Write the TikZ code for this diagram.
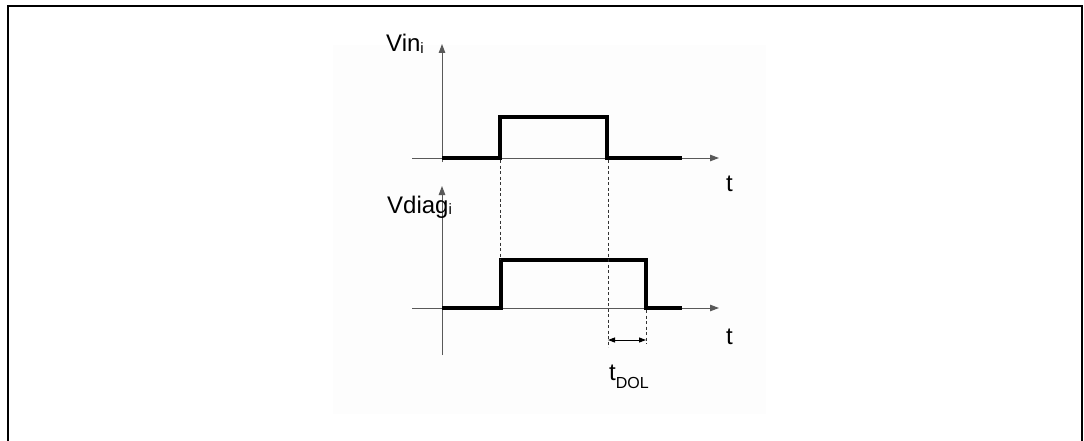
\documentclass[tikz,border=0pt]{standalone}
\usepackage{fontspec}
\setmainfont{Liberation Sans}
\usetikzlibrary{arrows.meta}
\begin{document}
\begin{tikzpicture}[x=1pt,y=-1pt,
  axis/.style={draw=black!65,line width=1pt,-{Triangle[length=9pt,width=6.5pt]}},
  signal/.style={draw=black,line width=3.6pt,line join=miter},
  guide/.style={draw=black!80,line width=0.6pt,dash pattern=on 3pt off 2.5pt},
  dim/.style={draw=black,line width=0.9pt,{Triangle[length=7pt,width=5pt]}-{Triangle[length=7pt,width=5pt]}},
  lbl/.style={inner sep=0pt,anchor=base west,font=\fontsize{24}{28}\selectfont}]
\useasboundingbox (0,0) rectangle (1084,441);
% frame and faint image background
\draw[line width=2pt] (8,452) -- (8,6) -- (1082,6) -- (1082,452);
\fill[black!0.6] (333,45) rectangle (766,414);
% coordinates
\coordinate (a1b) at (442,162);
\coordinate (a1t) at (442,44);
\coordinate (h1l) at (412,158);
\coordinate (h1r) at (719,158);
\coordinate (a2b) at (442,355);
\coordinate (a2t) at (442,186);
\coordinate (h2l) at (412,308);
\coordinate (h2r) at (719,308);
% axes
\draw[axis] (a1b) -- (a1t);
\draw[axis] (h1l) -- (h1r);
\draw[axis] (a2b) -- (a2t);
\draw[axis] (h2l) -- (h2r);
% signals
\draw[signal] (442,158) -- (500,158) -- (500,117) -- (607,117) -- (607,158) -- (682,158);
\draw[signal] (442,308) -- (501,308) -- (501,260) -- (646,260) -- (646,308) -- (682,308);
% guide lines
\coordinate (g1t) at (500,160);
\coordinate (g1b) at (500,260);
\coordinate (g2t) at (608,160);
\coordinate (g2b) at (608,347);
\coordinate (g3t) at (646,310);
\coordinate (g3b) at (646,344);
\draw[guide] (g1t) -- (g1b);
\draw[guide] (g2t) -- (g2b);
\draw[guide] (g3t) -- (g3b);
\coordinate (d1) at (608,340);
\coordinate (d2) at (646,340);
\draw[dim] (d1) -- (d2);
% labels
\node[lbl] (vin) at (386,52) {Vin\raisebox{-1.5pt}{\fontsize{15}{17}\selectfont i}};
\node[lbl] (vdiag) at (387,213) {Vdiag\raisebox{-1.5pt}{\fontsize{15}{17}\selectfont i}};
\node[lbl] (t1) at (726,191) {t};
\node[lbl] (t2) at (726,344) {t};
\node[lbl] (tdol) at (609,380) {t\raisebox{-8pt}{\fontsize{16}{18}\selectfont DOL}};
\end{tikzpicture}
\end{document}
